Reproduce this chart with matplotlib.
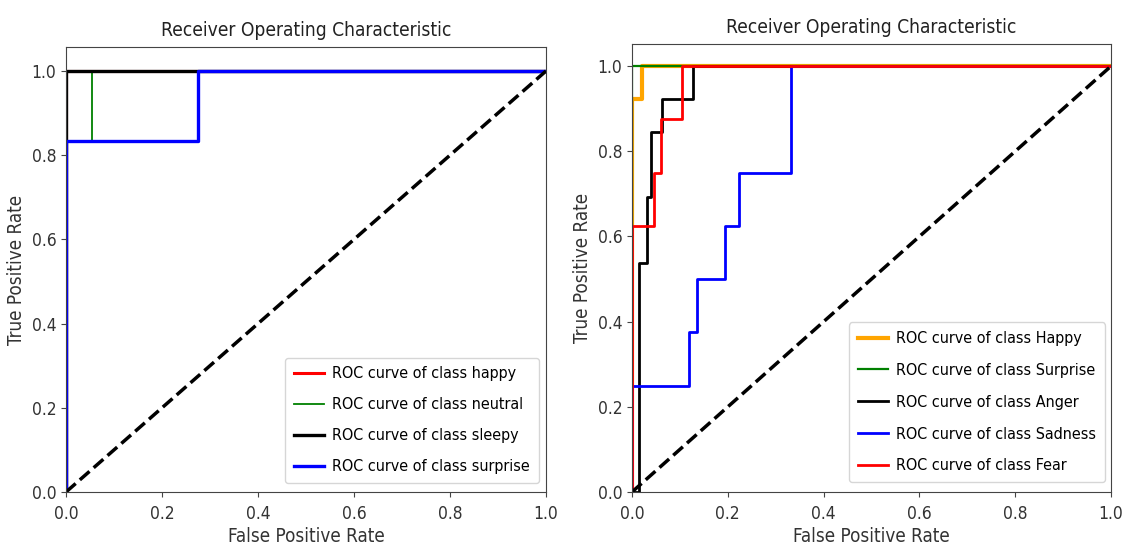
import matplotlib.pyplot as plt

plt.rcParams['font.family'] = ['DejaVu Sans']
plt.rcParams['font.stretch'] = 'condensed'

# left panel: classes happy / neutral / sleepy / surprise
left_names = ['happy', 'neutral', 'sleepy', 'surprise']
left_colors = ['red', 'green', 'black', 'blue']
left_fpr = [
    [0.0, 0.0, 1.0],
    [0.0, 0.0, 0.055, 0.055, 1.0],
    [0.0, 0.0, 1.0],
    [0.0, 0.0, 0.275, 0.275, 1.0],
]
left_tpr = [
    [0.0, 1.0, 1.0],
    [0.0, 0.833, 0.833, 1.0, 1.0],
    [0.0, 1.0, 1.0],
    [0.0, 0.833, 0.833, 1.0, 1.0],
]
left_widths = [2.2, 1.3, 2.4, 2.4]

# right panel: classes Happy / Surprise / Anger / Sadness / Fear
right_names = ['Happy', 'Surprise', 'Anger', 'Sadness', 'Fear']
right_colors = ['orange', 'green', 'black', 'blue', 'red']
right_fpr = [
    [0.0, 0.0, 0.021, 0.021, 1.0],
    [0.0, 0.0, 1.0],
    [0.0, 0.014, 0.014, 0.032, 0.032, 0.039, 0.039, 0.063, 0.063, 0.128, 0.128, 1.0],
    [0.0, 0.0, 0.119, 0.119, 0.135, 0.135, 0.195, 0.195, 0.223, 0.223, 0.331, 0.331, 1.0],
    [0.0, 0.0, 0.045, 0.045, 0.06, 0.06, 0.105, 0.105, 1.0],
]
right_tpr = [
    [0.0, 0.923, 0.923, 1.0, 1.0],
    [0.0, 1.0, 1.0],
    [0.0, 0.0, 0.538, 0.538, 0.692, 0.692, 0.846, 0.846, 0.923, 0.923, 1.0, 1.0],
    [0.0, 0.25, 0.25, 0.375, 0.375, 0.5, 0.5, 0.625, 0.625, 0.75, 0.75, 1.0, 1.0],
    [0.0, 0.625, 0.625, 0.75, 0.75, 0.875, 0.875, 1.0, 1.0],
]
right_widths = [3.0, 1.6, 2, 2, 2]

fig = plt.figure(figsize=(11.23, 5.54), dpi=100)
ax1 = fig.add_axes([66 / 1123, 62 / 554, 480 / 1123, 445 / 554])
ax2 = fig.add_axes([632 / 1123, 62 / 554, 479 / 1123, 448 / 554])

for name, c, f, t, w in zip(left_names, left_colors, left_fpr, left_tpr, left_widths):
    ax1.plot(f, t, color=c, lw=w, label=f'ROC curve of class {name}')

for name, c, f, t, w in zip(right_names, right_colors, right_fpr, right_tpr, right_widths):
    ax2.plot(f, t, color=c, lw=w, label=f'ROC curve of class {name}')

ax1.set_ylim(0.0, 1.057)
ax2.set_ylim(0.0, 1.052)

for ax in (ax1, ax2):
    ax.plot([0, 1], [0, 1], 'k--', lw=2.5)
    ax.set_xlim(0.0, 1.0)
    ax.set_xticks([0.0, 0.2, 0.4, 0.6, 0.8, 1.0])
    ax.set_yticks([0.0, 0.2, 0.4, 0.6, 0.8, 1.0])
    ax.tick_params(labelsize=12.5, colors='#444444', labelcolor='#333333')
    ax.tick_params(axis='x', pad=6)
    for s in ax.spines.values():
        s.set_color('#444444')
    ax.set_xlabel('False Positive Rate', fontsize=13.5, color='#333333', labelpad=3)
    ax.set_ylabel('True Positive Rate', fontsize=13.5, color='#333333')
    ax.set_title('Receiver Operating Characteristic', fontsize=13.8, color='#222222', pad=8)

ax1.legend(loc='lower right', bbox_to_anchor=(0.985, 0.02), borderaxespad=0,
           fontsize=11.5, labelspacing=1.0, borderpad=0.55,
           handlelength=1.9, handletextpad=0.5)
ax2.legend(loc='lower right', bbox_to_anchor=(0.9875, 0.022), borderaxespad=0,
           fontsize=11.5, labelspacing=1.05, borderpad=0.55,
           handlelength=1.9, handletextpad=0.5)

fig.savefig('out.png', dpi=100)
